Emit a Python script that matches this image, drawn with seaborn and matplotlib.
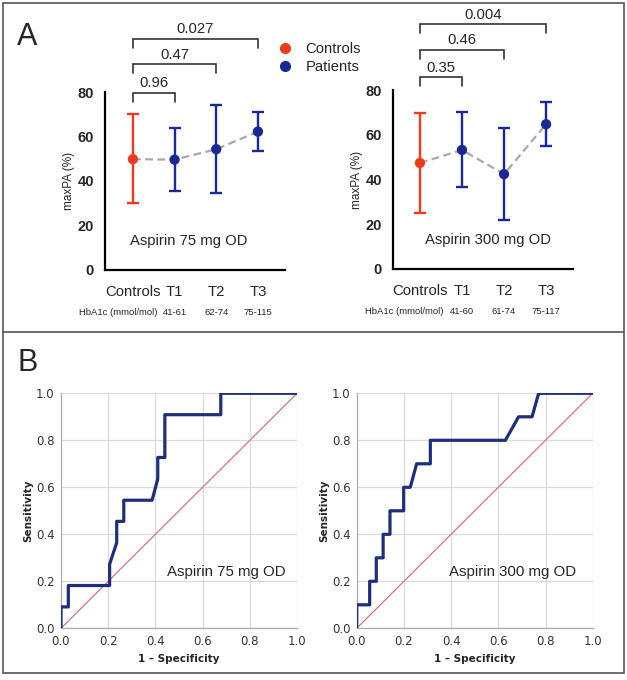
import numpy as np
import pandas as pd
import seaborn as sns
import matplotlib.pyplot as plt
from matplotlib.lines import Line2D
from matplotlib.patches import Rectangle

# panel A: maxPA (%) mean with error range per group
groups = ['Controls', 'T1', 'T2', 'T3']
hba1c_75 = ['41-61', '62-74', '75-115']
hba1c_300 = ['41-60', '61-74', '75-117']

mean_75 = [49.8, 49.6, 54.3, 62.2]
low_75 = [29.9, 35.4, 34.4, 53.4]
high_75 = [70.0, 63.7, 74.3, 70.9]

mean_300 = [47.4, 53.2, 42.4, 64.7]
low_300 = [25.1, 36.6, 21.7, 55.0]
high_300 = [69.6, 70.0, 63.2, 74.5]

# p-value brackets: (from group, to group, p label)
pairs = [(0, 1), (0, 2), (0, 3)]
p_75 = ['0.96', '0.47', '0.027']
p_300 = ['0.35', '0.46', '0.004']
bracket_top_75 = [79.7, 92.4, 103.9]
bracket_top_300 = [85.6, 97.8, 109.4]

# panel B: ROC curves
fpr_75 = [0.0, 0.0, 0.031, 0.031, 0.206, 0.206, 0.236, 0.236, 0.266, 0.266,
          0.386, 0.41, 0.41, 0.44, 0.44, 0.677, 0.677, 1.0]
tpr_75 = [0.0, 0.091, 0.091, 0.182, 0.182, 0.273, 0.364, 0.455, 0.455, 0.545,
          0.545, 0.636, 0.727, 0.727, 0.909, 0.909, 1.0, 1.0]
fpr_300 = [0.0, 0.0, 0.055, 0.055, 0.083, 0.083, 0.112, 0.112, 0.141, 0.141,
           0.199, 0.199, 0.227, 0.254, 0.312, 0.312, 0.63, 0.686, 0.743, 0.771, 1.0]
tpr_300 = [0.0, 0.1, 0.1, 0.2, 0.2, 0.3, 0.3, 0.4, 0.4, 0.5,
           0.5, 0.6, 0.6, 0.7, 0.7, 0.8, 0.8, 0.9, 0.9, 1.0, 1.0]

red = '#f03a1e'
navy = '#1a2896'
roc_blue = '#1f2d7d'

sns.set_style('white')
plt.rcParams['font.family'] = ['Liberation Sans', 'DejaVu Sans']

fig = plt.figure(figsize=(6.27, 6.8), dpi=100)
W, H = 627, 680


def box(x0, y0, w, h):
    return [x0 / W, 1 - (y0 + h) / H, w / W, h / H]


def draw_group_panel(ax, means, lows, highs, pvals, tops, hba1c, title, title_x, xlim, hb_x):
    df = pd.DataFrame({'pos': np.arange(len(groups)), 'group': groups,
                       'mean': means, 'low': lows, 'high': highs})
    df['kind'] = ['Controls'] + ['Patients'] * (len(groups) - 1)
    sns.lineplot(data=df, x='pos', y='mean', ax=ax, color='#a8a8a8',
                 linestyle=(0, (3.5, 2)), lw=1.6, zorder=1)
    for _, r in df.iterrows():
        c = red if r['kind'] == 'Controls' else navy
        ax.errorbar(r['pos'], r['mean'], yerr=[[r['mean'] - r['low']], [r['high'] - r['mean']]],
                    fmt='none', ecolor=c, elinewidth=1.7, capsize=4.5, capthick=1.7, zorder=2)
    sns.scatterplot(data=df, x='pos', y='mean', hue='kind', palette={'Controls': red, 'Patients': navy},
                    s=55, edgecolor='none', ax=ax, legend=False, zorder=3)
    ax.set_xlim(*xlim)
    ax.set_ylim(0, 80)
    ax.set_yticks([0, 20, 40, 60, 80])
    ax.set_xticks(df['pos'])
    ax.set_xticklabels(groups, fontsize=10.7)
    for lab in ax.get_yticklabels():
        lab.set_fontweight('bold')
        lab.set_fontsize(10.5)
    ax.tick_params(axis='both', width=1.5, length=5, direction='out', color='black', pad=3)
    ax.tick_params(axis='x', pad=6)
    for s in ['top', 'right']:
        ax.spines[s].set_visible(False)
    for s in ['left', 'bottom']:
        ax.spines[s].set_linewidth(1.6)
        ax.spines[s].set_color('black')
    ax.set_xlabel('')
    ax.set_ylabel('maxPA (%)', fontsize=8.5, labelpad=2)
    ax.text(title_x, 13, title, fontsize=10.7, va='center', ha='left')
    # brackets
    for (a, b), p, top in zip(pairs, pvals, tops):
        ax.plot([a, a, b, b], [top - 4, top, top, top - 4], color='#333333', lw=1.2,
                clip_on=False, solid_joinstyle='miter')
        ax.text((a + b) / 2, top + 1.2, p, ha='center', va='bottom', fontsize=10.7)
    tr = ax.get_xaxis_transform()
    ax.text(hb_x, -0.236, 'HbA1c (mmol/mol)', transform=tr, ha='right', va='center', fontsize=6.8)
    for i, t in enumerate(hba1c):
        ax.text(i + 1, -0.236, t, transform=tr, ha='center', va='center', fontsize=6.8)


ax1 = fig.add_axes(box(105, 92, 180, 178))
draw_group_panel(ax1, mean_75, low_75, high_75, p_75, bracket_top_75, hba1c_75,
                 'Aspirin 75 mg OD', -0.07, (-0.67, 3.65), 0.6)
ax2 = fig.add_axes(box(393, 90, 180, 179))
draw_group_panel(ax2, mean_300, low_300, high_300, p_300, bracket_top_300, hba1c_300,
                 'Aspirin 300 mg OD', 0.12, (-0.64, 3.64), 0.57)

handles = [Line2D([], [], marker='o', ls='none', color=red, ms=7),
           Line2D([], [], marker='o', ls='none', color=navy, ms=7)]
fig.legend(handles, ['Controls', 'Patients'], loc='upper left',
           bbox_to_anchor=(279 / W, 1 - 42 / H), frameon=False, fontsize=10.7,
           handlelength=0.8, handletextpad=1.0, labelspacing=0.3,
           borderpad=0, borderaxespad=0)


def draw_roc(ax, fpr, tpr, title, tx):
    ax.plot([0, 1], [0, 1], color='#d9708c', lw=0.9, zorder=2)
    sns.lineplot(x=fpr, y=tpr, sort=False, estimator=None, ax=ax,
                 color=roc_blue, lw=2.3, zorder=3)
    ax.set_xlim(0, 1)
    ax.set_ylim(0, 1)
    ticks = np.arange(0, 1.01, 0.2)
    ax.set_xticks(ticks)
    ax.set_yticks(ticks)
    ax.set_xticklabels([f'{t:.1f}' for t in ticks], family='DejaVu Sans')
    ax.set_yticklabels([f'{t:.1f}' for t in ticks], family='DejaVu Sans')
    ax.grid(True, color='#dcdcdc', lw=0.9)
    ax.set_axisbelow(True)
    for s in ['top', 'right']:
        ax.spines[s].set_visible(False)
    for s in ['left', 'bottom']:
        ax.spines[s].set_color('#aaaaaa')
        ax.spines[s].set_linewidth(0.9)
    ax.tick_params(axis='both', labelsize=8.5, labelcolor='#333333', length=2.5,
                   color='#aaaaaa', pad=2)
    ax.set_xlabel('1 \u2013 Specificity', fontsize=7.5, fontweight='bold',
                  family='DejaVu Sans', labelpad=5)
    ax.set_ylabel('Sensitivity', fontsize=7.5, fontweight='bold',
                  family='DejaVu Sans', labelpad=2)
    ax.text(tx, 0.24, title, fontsize=10.8, va='center', ha='left')


ax3 = fig.add_axes(box(61, 393.3, 236, 235))
draw_roc(ax3, fpr_75, tpr_75, 'Aspirin 75 mg OD', 0.448)
ax4 = fig.add_axes(box(356.7, 393.3, 236, 235))
draw_roc(ax4, fpr_300, tpr_300, 'Aspirin 300 mg OD', 0.393)

fig.text(17 / W, 1 - 37 / H, 'A', fontsize=22, va='center', ha='left')
fig.text(17 / W, 1 - 363 / H, 'B', fontsize=22, va='center', ha='left')

fig.add_artist(Rectangle((3 / W, 1 - 673 / H), 621 / W, 670 / H, transform=fig.transFigure,
                         fill=False, edgecolor='#555555', lw=1.2))
fig.add_artist(Line2D([3 / W, 624 / W], [1 - 332 / H, 1 - 332 / H], transform=fig.transFigure,
                      color='#555555', lw=1.2))

fig.savefig('out.png', dpi=100)
